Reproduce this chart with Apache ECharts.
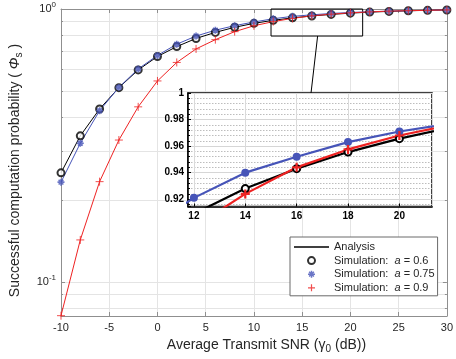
<!DOCTYPE html>
<html><head><meta charset="utf-8">
<script src="https://cdn.jsdelivr.net/npm/echarts@6/dist/echarts.min.js"></script>
<style>html,body{margin:0;padding:0;background:#fff}#c{width:456px;height:359px}</style>
</head><body><div id="c"></div>
<script>
// ---- data ----
const snrDb = [-10,-8,-6,-4,-2,0,2,4,6,8,10,12,14,16,18,20,22,24,26,28,30];
const phiA06 = [0.251,0.343,0.430,0.515,0.598,0.670,0.728,0.780,0.821,0.857,0.886,0.909,0.928,0.943,0.9555,0.9656,0.974,0.980,0.985,0.989,0.992];
const phiA075 = [0.232,0.322,0.424,0.516,0.603,0.676,0.743,0.796,0.836,0.869,0.896,0.921,0.940,0.952,0.963,0.971,0.977,0.982,0.986,0.989,0.992];
const phiA09 = [0.0752,0.1425,0.233,0.331,0.438,0.545,0.637,0.714,0.772,0.826,0.868,0.899,0.924,0.944,0.9575,0.968,0.976,0.982,0.986,0.989,0.992];
const simNames = ['Simulation:  a = 0.6','Simulation:  a = 0.75','Simulation:  a = 0.9'];
const xRange = [-10, 30];
const yRange = [0.075, 1];
const zoomX = [11.77, 21.27];
const zoomY = [0.9145, 1];
const zoomBoxY = [0.796, 1];
const connectorX = [16.6, 16.56];

const FONT = 'Liberation Sans, Arial, sans-serif';
const cBlack = '#000000', cBlue = '#4654b8', cRed = '#ee2222';
const AST = 'path://M5,0L5,10M0,5L10,5M1.6,1.6L8.4,8.4M1.6,8.4L8.4,1.6';
const PLUS = 'path://M5,0L5,10M0,5L10,5';
const LINEICON = 'path://M0,0L35,0L35,1.6L0,1.6Z';
const pairs = arr => snrDb.map((x, i) => [x, arr[i]]);

const chart = echarts.init(document.getElementById('c'), null, {renderer: 'canvas'});

const gridColor = '#e4e4e4';
const axisGray = '#8f8f8f';

const option = {
  animation: false,
  backgroundColor: '#fff',
  textStyle: {fontFamily: FONT},
  grid: [
    {left: 60, top: 9, width: 391, height: 307, show: false},
    {left: 188, top: 93, width: 244, height: 113.5, show: true, backgroundColor: '#fff', borderColor: '#000', borderWidth: 1.5, z: 3}
  ],
  xAxis: [
    {type: 'value', gridIndex: 0, min: xRange[0], max: xRange[1], interval: 5,
     axisLine: {show: true, onZero: false, lineStyle: {color: axisGray}}, axisTick: {inside: true, length: 4, lineStyle: {color: axisGray}},
     axisLabel: {fontSize: 11, color: '#262626', margin: 6, fontFamily: FONT},
     splitLine: {show: true, lineStyle: {color: gridColor}},
     name: 'Average Transmit SNR ({g|γ}{sub|0} (dB))', nameLocation: 'middle', nameGap: 17,
     nameTextStyle: {fontSize: 14, color: '#262626', fontFamily: FONT, padding: [0, 0, 0, 25],
       rich: {g: {fontSize: 14, fontFamily: FONT, color: '#262626'}, sub: {fontSize: 10, color: '#262626', fontFamily: FONT, padding: [8, 0, 0, 0]}}}},
    {type: 'value', gridIndex: 1, min: zoomX[0], max: zoomX[1], minInterval: 2, maxInterval: 2,
     axisLine: {show: true, onZero: false, lineStyle: {color: '#000', width: 1.5}}, axisTick: {inside: true, length: 3, lineStyle: {color: '#000'}},
     axisLabel: {fontSize: 10, fontWeight: 'bold', color: '#000', margin: 5, showMinLabel: false, showMaxLabel: false, fontFamily: FONT},
     splitLine: {show: true, lineStyle: {color: '#dadada'}}, z: 3},
    {type: 'value', gridIndex: 0, position: 'top', min: xRange[0], max: xRange[1], interval: 5,
     axisLine: {show: true, onZero: false, lineStyle: {color: axisGray}}, axisTick: {inside: true, length: 4, lineStyle: {color: axisGray}},
     axisLabel: {show: false}, splitLine: {show: false}}
  ],
  yAxis: [
    {type: 'log', logBase: 10, gridIndex: 0, min: yRange[0], max: yRange[1],
     axisLine: {show: true, onZero: false, lineStyle: {color: axisGray}}, axisTick: {inside: true, length: 4, lineStyle: {color: axisGray}},
     minorTick: {show: true, splitNumber: 9, length: 2, lineStyle: {color: axisGray}},
     axisLabel: {showMinLabel: false, fontSize: 11, color: '#262626', margin: 5, fontFamily: FONT,
       formatter: v => (Math.abs(v - 1) < 1e-9 ? '10{sup|0}' : (Math.abs(v - 0.1) < 1e-9 ? '10{sup|-1}' : '')),
       rich: {sup: {fontSize: 8, color: '#262626', padding: [0, 0, 8, 0], fontFamily: FONT}}},
     splitLine: {show: true, lineStyle: {color: gridColor}},
     minorSplitLine: {show: true, lineStyle: {color: gridColor}},
     name: 'Successful computation probability ( {i|Φ}{sub|s} )', nameLocation: 'middle', nameGap: 37,
     nameTextStyle: {fontSize: 14, color: '#262626', fontFamily: FONT, padding: [0, 16, 0, 0],
       rich: {i: {fontSize: 14, fontStyle: 'italic', color: '#262626', fontFamily: FONT}, sub: {fontSize: 10, color: '#262626', fontFamily: FONT, padding: [8, 0, 0, 0]}}}},
    {type: 'value', gridIndex: 1, min: zoomY[0], max: zoomY[1], minInterval: 0.02, maxInterval: 0.02,
     axisLine: {show: true, onZero: false, lineStyle: {color: '#000', width: 1.5}}, axisTick: {inside: true, length: 3, lineStyle: {color: '#000'}},
     minorTick: {show: true, splitNumber: 5, length: 2, lineStyle: {color: '#000'}},
     axisLabel: {fontSize: 10, fontWeight: 'bold', color: '#000', margin: 4, showMinLabel: false, fontFamily: FONT,
       formatter: v => (Math.abs(v - 1) < 1e-9 ? '1' : v.toFixed(2))},
     splitLine: {show: true, lineStyle: {color: '#d6d6d6'}},
     minorSplitLine: {show: true, lineStyle: {color: '#bdbdbd', type: [1.5, 1.5]}}, z: 3},
    {type: 'log', logBase: 10, gridIndex: 0, position: 'right', min: yRange[0], max: yRange[1],
     axisLine: {show: true, onZero: false, lineStyle: {color: axisGray}}, axisTick: {inside: true, length: 4, lineStyle: {color: axisGray}},
     minorTick: {show: true, splitNumber: 9, length: 2, lineStyle: {color: axisGray}},
     axisLabel: {show: false}, splitLine: {show: false}}
  ],
  legend: {
    orient: 'vertical', left: 290, top: 237,
    padding: [4, 3, 2, 4], itemGap: 1.6, itemWidth: 35, itemHeight: 7,
    backgroundColor: '#fff', borderColor: '#6a6a6a', borderWidth: 1, borderRadius: 0,
    textStyle: {fontSize: 11, lineHeight: 12, color: '#262626', fontFamily: FONT,
      rich: {i: {fontStyle: 'italic', fontSize: 11, lineHeight: 12, color: '#262626', fontFamily: FONT}}},
    formatter: n => n.replace(' a = ', ' {i|a} = '),
    data: [
      {name: 'Analysis', icon: LINEICON, itemStyle: {color: cBlack, borderWidth: 0}},
      {name: simNames[0], icon: 'emptyCircle', itemStyle: {color: cBlack, borderColor: cBlack, borderWidth: 1.5}},
      {name: simNames[1], icon: AST, itemStyle: {color: cBlue, borderColor: cBlue, borderWidth: 1.5}},
      {name: simNames[2], icon: PLUS, itemStyle: {color: cRed, borderColor: cRed, borderWidth: 1.2}}
    ]
  },
  series: [
    {name: 'Analysis', type: 'line', xAxisIndex: 0, yAxisIndex: 0, data: pairs(phiA06), symbol: 'none',
     lineStyle: {color: cBlack, width: 1}, itemStyle: {color: cBlack}, z: 2,
     markArea: {silent: true, itemStyle: {color: 'rgba(0,0,0,0)', borderColor: '#000', borderWidth: 1},
       data: [[{xAxis: zoomX[0], yAxis: zoomBoxY[0]}, {xAxis: zoomX[1], yAxis: zoomBoxY[1]}]]}},
    {name: simNames[0], type: 'scatter', xAxisIndex: 0, yAxisIndex: 0, data: pairs(phiA06), symbol: 'emptyCircle', symbolSize: 7,
     itemStyle: {color: cBlack, borderColor: cBlack, borderWidth: 1}, clip: false, z: 2},
    {name: 'Analysis a=0.75', type: 'line', xAxisIndex: 0, yAxisIndex: 0, data: pairs(phiA075), symbol: 'none',
     lineStyle: {color: cBlue, width: 1}, itemStyle: {color: cBlue}, z: 2},
    {name: simNames[1], type: 'scatter', xAxisIndex: 0, yAxisIndex: 0, data: pairs(phiA075), symbol: AST, symbolSize: 7,
     itemStyle: {color: cBlue, borderColor: cBlue, borderWidth: 1.6}, clip: false, z: 2},
    {name: 'Analysis a=0.9', type: 'line', xAxisIndex: 0, yAxisIndex: 0, data: pairs(phiA09), symbol: 'none',
     lineStyle: {color: cRed, width: 1}, itemStyle: {color: cRed}, z: 2},
    {name: simNames[2], type: 'scatter', xAxisIndex: 0, yAxisIndex: 0, data: pairs(phiA09), symbol: PLUS, symbolSize: 8,
     itemStyle: {color: cRed, borderColor: cRed, borderWidth: 1}, clip: false, z: 2},
    // inset
    {name: 'inset a=0.6', type: 'line', xAxisIndex: 1, yAxisIndex: 1, data: pairs(phiA06), symbol: 'emptyCircle', symbolSize: 7, showAllSymbol: true,
     lineStyle: {color: cBlack, width: 2.2}, itemStyle: {color: cBlack, borderColor: cBlack, borderWidth: 2.5}, clip: true, z: 5, silent: true},
    {name: 'inset a=0.75', type: 'line', xAxisIndex: 1, yAxisIndex: 1, data: pairs(phiA075), symbol: 'circle', symbolSize: 8, showAllSymbol: true,
     lineStyle: {color: cBlue, width: 2.2}, itemStyle: {color: cBlue}, clip: true, z: 5, silent: true},
    {name: 'inset a=0.9', type: 'line', xAxisIndex: 1, yAxisIndex: 1, data: pairs(phiA09), symbol: PLUS, symbolSize: 9, showAllSymbol: true,
     lineStyle: {color: cRed, width: 2.2}, itemStyle: {color: cRed, borderColor: cRed, borderWidth: 2.2}, clip: true, z: 5, silent: true}
  ]
};
chart.setOption(option);

const p1 = chart.convertToPixel({xAxisIndex: 0, yAxisIndex: 0}, [connectorX[0], zoomBoxY[0]]);
const p2 = chart.convertToPixel({xAxisIndex: 1, yAxisIndex: 1}, [connectorX[1], zoomY[1]]);
chart.setOption({graphic: [{type: 'line', z: 10, shape: {x1: p1[0], y1: p1[1], x2: p2[0], y2: p2[1]}, style: {stroke: '#000', lineWidth: 1}}]});
</script></body></html>
